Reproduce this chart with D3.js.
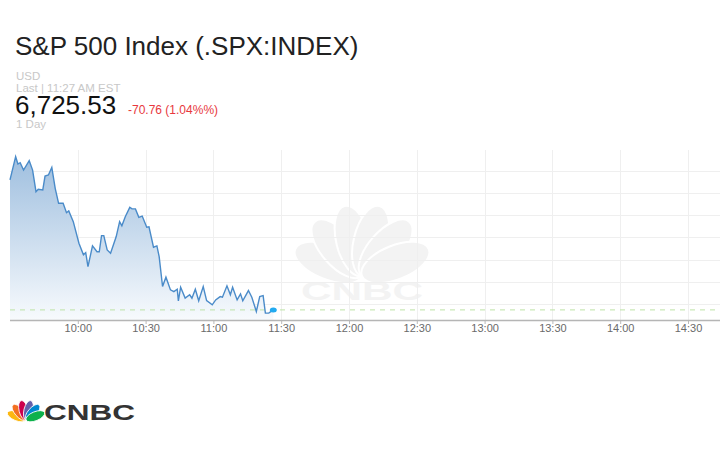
<!DOCTYPE html>
<html>
<head>
<meta charset="utf-8">
<script src="https://cdn.jsdelivr.net/npm/d3@7"></script>
<style>
  body { margin: 0; background: #fff; }
  svg { display: block; font-family: "Liberation Sans", Arial, sans-serif; }
</style>
</head>
<body>
<script>
var width = 720,
    height = 450,
    plotLeft = 10,
    plotRight = 720,
    plotTop = 150,
    plotBottom = 320;

// intraday prices
var times = ["9:30:00","9:32:30","9:33:30","9:34:30","9:36:00","9:38:30","9:40:00","9:41:30","9:42:30","9:44:30",
             "9:45:30","9:47:00","9:48:30","9:50:00","9:51:30","9:53:30","9:55:00","9:56:00","9:58:00","10:00:30",
             "10:02:30","10:03:30","10:04:30","10:06:30","10:08:30","10:09:30","10:10:30","10:11:30","10:13:00","10:14:30",
             "10:17:00","10:18:30","10:19:30","10:21:00","10:23:00","10:24:00","10:25:30","10:27:00","10:28:30","10:30:30",
             "10:31:30","10:33:30","10:35:00","10:36:00","10:37:30","10:39:00","10:41:00","10:42:30","10:44:00","10:44:30",
             "10:45:30","10:47:30","10:49:30","10:50:30","10:52:00","10:53:30","10:55:30","10:57:00","10:59:30","11:01:00",
             "11:03:00","11:04:00","11:06:00","11:07:30","11:08:30","11:10:30","11:12:00","11:13:00","11:15:30","11:17:00",
             "11:19:00","11:20:30","11:22:00","11:23:00","11:24:30","11:26:30"];
var prices = [6783.8,6794.2,6790.9,6791.5,6788.2,6792.4,6788.2,6778.5,6779.6,6779.3,
              6785.5,6786.0,6789.4,6780.0,6773.3,6773.3,6769.1,6769.9,6765.1,6755.4,
              6750.2,6751.2,6744.9,6754.2,6751.6,6751.6,6758.8,6758.8,6752.4,6750.9,
              6758.4,6765.1,6763.2,6767.3,6771.5,6770.8,6770.8,6767.0,6767.6,6762.6,
              6762.8,6753.6,6754.2,6749.4,6736.0,6740.2,6734.5,6733.7,6734.8,6729.6,
              6735.7,6730.8,6732.3,6730.8,6734.8,6729.6,6736.0,6729.7,6727.8,6730.0,
              6731.5,6731.2,6736.3,6732.3,6735.7,6730.0,6732.7,6729.6,6734.2,6731.2,
              6724.8,6731.5,6731.9,6724.1,6724.1,6725.53];

var timeTicks = ["10:00","10:30","11:00","11:30","12:00","12:30","13:00","13:30","14:00","14:30"];
var priceGrid = [6728,6738,6748,6758,6768,6778,6788];

var lastPrice = 6725.53,
    change = -70.76,
    changePct = 1.04;

var parseTime = d3.timeParse("%H:%M:%S"),
    parseTick = d3.timeParse("%H:%M");

var data = times.map(function(t, i) {
  return {date: parseTime(t), price: prices[i]};
});

var svg = d3.select("body")
            .append("svg")
            .attr("width", width)
            .attr("height", height);

var x = d3.scaleTime()
          .domain([parseTick("9:30"), parseTick("16:00")])
          .range([plotLeft, plotLeft + 13 * 67.8]);
var y = d3.scaleLinear()
          .domain([6721, 6797.2])
          .range([plotBottom, plotTop]);

// header
svg.append("text")
   .attr("x", 15).attr("y", 55)
   .attr("font-size", 26).attr("fill", "#222")
   .text("S&P 500 Index (.SPX:INDEX)");
svg.append("text")
   .attr("x", 16).attr("y", 80)
   .attr("font-size", 11.5).attr("fill", "#c8c8c8")
   .text("USD");
svg.append("text")
   .attr("x", 16).attr("y", 92)
   .attr("font-size", 11.5).attr("fill", "#c8c8c8")
   .text("Last | 11:27 AM EST");
svg.append("text")
   .attr("x", 15).attr("y", 114)
   .attr("font-size", 26).attr("fill", "#111")
   .text(d3.format(",.2f")(lastPrice));
svg.append("text")
   .attr("x", 128).attr("y", 114)
   .attr("font-size", 12).attr("fill", "#e8383d")
   .text(d3.format(".2f")(change).replace("\u2212", "-") + " (" + d3.format(".2f")(changePct) + "%%)");
svg.append("text")
   .attr("x", 16).attr("y", 128)
   .attr("font-size", 11.5).attr("fill", "#c8c8c8")
   .text("1 Day");

// peacock feathers
function peacock(g, cx, cy, len, wid, colors, gap) {
  var angles = [-68, -41, -14, 14, 41, 68];
  angles.forEach(function(a, i) {
    g.append("ellipse")
     .attr("cx", 0).attr("cy", -len / 2)
     .attr("rx", wid / 2).attr("ry", len / 2)
     .attr("transform", "translate(" + cx + "," + cy + ") rotate(" + a + ")")
     .attr("fill", colors[i])
     .attr("stroke", "#fff")
     .attr("stroke-width", gap);
  });
}

var wm = svg.append("g");
peacock(wm, 362, 276, 72, 34, d3.range(6).map(function() { return "#f3f3f3"; }), 2);
wm.append("text")
  .attr("x", 362).attr("y", 300)
  .attr("text-anchor", "middle")
  .attr("font-size", 25).attr("font-weight", "bold")
  .attr("textLength", 122).attr("lengthAdjust", "spacingAndGlyphs")
  .attr("fill", "#f3f3f3")
  .text("CNBC");

// grid
svg.append("g")
   .selectAll("line")
   .data(priceGrid)
   .enter()
   .append("line")
   .attr("x1", plotLeft).attr("x2", plotRight)
   .attr("y1", function(d) { return Math.round(y(d)) + 0.5; })
   .attr("y2", function(d) { return Math.round(y(d)) + 0.5; })
   .attr("stroke", "#efefef");

svg.append("g")
   .selectAll("line")
   .data(timeTicks)
   .enter()
   .append("line")
   .attr("x1", function(d) { return Math.round(x(parseTick(d))) + 0.5; })
   .attr("x2", function(d) { return Math.round(x(parseTick(d))) + 0.5; })
   .attr("y1", plotTop).attr("y2", plotBottom)
   .attr("stroke", "#efefef");

// area
var grad = svg.append("defs")
              .append("linearGradient")
              .attr("id", "fade")
              .attr("x1", 0).attr("y1", 0).attr("x2", 0).attr("y2", 1);
grad.append("stop").attr("offset", "0%").attr("stop-color", "#9fbfdf");
grad.append("stop").attr("offset", "100%").attr("stop-color", "#f7fafd");

var area = d3.area()
             .x(function(d) { return x(d.date); })
             .y0(plotBottom)
             .y1(function(d) { return y(d.price); });

svg.append("path")
   .attr("d", area(data))
   .attr("fill", "url(#fade)");

// last price dashed line
svg.append("line")
   .attr("x1", plotLeft).attr("x2", plotRight)
   .attr("y1", y(lastPrice)).attr("y2", y(lastPrice))
   .attr("stroke", "#bde3a6")
   .attr("stroke-dasharray", "5,5");

var valueLine = d3.line()
                  .x(function(d) { return x(d.date); })
                  .y(function(d) { return y(d.price); });

svg.append("path")
   .attr("d", valueLine(data))
   .attr("fill", "none")
   .attr("stroke", "#4a8bc9")
   .attr("stroke-width", 1.4);

var last = data[data.length - 1];
svg.append("ellipse")
   .attr("cx", x(last.date)).attr("cy", y(last.price))
   .attr("rx", 3.5).attr("ry", 2.5)
   .attr("fill", "#22aaf0");

// time axis
var axis = svg.append("g")
              .attr("transform", "translate(0," + plotBottom + ")")
              .call(d3.axisBottom(x)
                      .tickValues(timeTicks.map(parseTick))
                      .tickFormat(d3.timeFormat("%H:%M"))
                      .tickSize(4));
axis.select(".domain").remove();
axis.selectAll(".tick line").attr("stroke", "#bbb");
axis.selectAll(".tick text")
    .attr("fill", "#6a6a6a")
    .attr("font-size", 11)
    .attr("font-family", "Liberation Sans, Arial, sans-serif")
    .attr("dy", "0.6em")
    .attr("y", 5);

svg.append("line")
   .attr("x1", plotLeft).attr("x2", plotRight)
   .attr("y1", plotBottom + 0.5).attr("y2", plotBottom + 0.5)
   .attr("stroke", "#b5b5b5")
   .attr("stroke-width", 1.5);

// logo
var logo = svg.append("g");
peacock(logo, 26, 420, 20, 9, ["#fcb711", "#f37021", "#cc004c", "#6460aa", "#0089d0", "#0db14b"], 0.8);
logo.append("text")
    .attr("x", 44).attr("y", 420)
    .attr("font-size", 22).attr("font-weight", "bold")
    .attr("textLength", 91).attr("lengthAdjust", "spacingAndGlyphs")
    .attr("fill", "#333")
    .text("CNBC");
</script>
</body>
</html>
